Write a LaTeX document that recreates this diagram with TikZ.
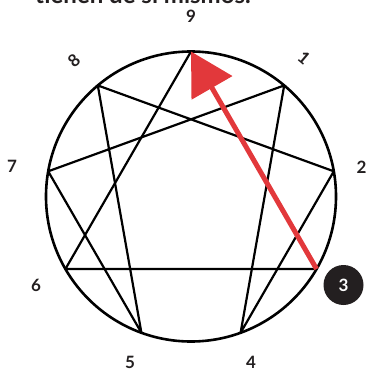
\documentclass[tikz,border=0pt]{standalone}
\usepackage{fontspec}
\setmainfont{Lato}
\usetikzlibrary{calc,arrows.meta}
\definecolor{arrowred}{HTML}{E2383B}
\definecolor{darkdot}{HTML}{231F20}
\tikzset{
  ring/.style={draw=black, line width=2.6pt},
  chord/.style={draw=black, line width=2.2pt, line cap=round, line join=round},
  num/.style={font=\fontsize{17}{17}\selectfont\bfseries, text=darkdot, inner sep=0pt},
  redarrow/.style={draw=arrowred, line width=5pt, -{Triangle[length=42pt,width=46pt,fill=arrowred]}},
  badge/.style={circle, fill=darkdot, minimum size=40pt, inner sep=0pt, text=white, font=\fontsize{17}{17}\selectfont\bfseries}
}
\begin{document}
\begin{tikzpicture}[x=1pt,y=-1pt]
\useasboundingbox (0,0) rectangle (365,372);
\node[anchor=base, font=\fontsize{24}{24}\selectfont\bfseries, text=darkdot, inner sep=0pt] (top) at (143,4) {tienen de sí mismos.};
\coordinate (c) at (191,196.5);
\foreach \n/\a in {9/90,1/50,2/10,3/-30,4/-70,5/-110,6/-150,7/170,8/130}
  \coordinate (p\n) at ($(c)+(\a:145pt)$);
\draw[ring] (c) circle (145pt);
% triangle
\draw[chord] (p9) -- (p3) -- (p6) -- cycle;
% hexad
\draw[chord] (p1) -- (p4) -- (p2) -- (p8) -- (p5) -- (p7) -- cycle;
% red arrow
\draw[redarrow] (p3) -- (p9);
% labels
\node[num] (l9) at (191,16) {9};
\node[num, rotate=-40] (l1) at (304,58) {1};
\node[num] (l2) at (361.5,167) {2};
\node[badge] (l3) at (343.5,285) {3};
\node[num] (l4) at (251,362.5) {4};
\node[num] (l5) at (130,362.5) {5};
\node[num] (l6) at (36,285) {6};
\node[num] (l7) at (12,166) {7};
\node[num, rotate=40] (l8) at (74,61) {8};
\end{tikzpicture}
\end{document}
